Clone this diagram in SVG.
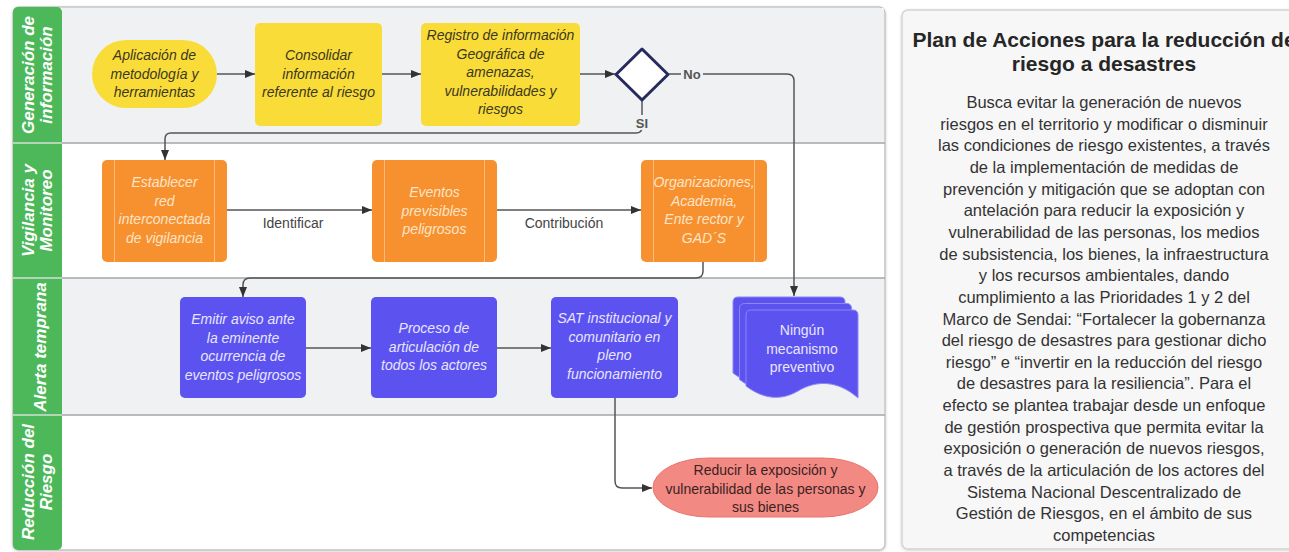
<svg xmlns="http://www.w3.org/2000/svg" width="1289" height="552" viewBox="0 0 1289 552">
<defs>
<marker id="arr" viewBox="0 0 10 10" refX="10" refY="5" markerWidth="10" markerHeight="10" markerUnits="userSpaceOnUse" orient="auto">
<path d="M0,1 L10,5 L0,9 Z" fill="#333"/>
</marker>
<filter id="sh" x="-5%" y="-5%" width="110%" height="110%">
<feDropShadow dx="0" dy="1" stdDeviation="1.5" flood-color="#000" flood-opacity="0.18"/>
</filter>
</defs>
<style>
text{font-family:"Liberation Sans",Arial,sans-serif}
.lane-t{font-size:17px;font-weight:bold;font-style:italic;fill:#ffffff;text-anchor:middle}
.ny{font-size:14px;font-style:italic;fill:#3a3820;text-anchor:middle}
.no{font-size:14px;font-style:italic;fill:#fde4c8;text-anchor:middle}
.nb{font-size:14px;font-style:italic;fill:#e8e6ff;text-anchor:middle}
.nbu{font-size:14px;fill:#e8e6ff;text-anchor:middle}
.nr{font-size:14px;fill:#3a2222;text-anchor:middle}
.lbl{font-size:14px;fill:#444;text-anchor:middle}
.lblb{font-size:13px;font-weight:bold;fill:#555;text-anchor:middle}
.yel{fill:#fadc38}
.ora{fill:#f7912f}
.blu{fill:#5b52f0}
.inner{stroke:#fbbb7c;stroke-width:1;fill:none}
.conn{fill:none;stroke:#555;stroke-width:1.5}
.title{font-size:21px;font-weight:bold;fill:#262626;text-anchor:middle}
.body{font-size:16.5px;fill:#333;text-anchor:middle}
</style>

<!-- swimlane container -->
<g id="swimlanes">
<rect x="13" y="7" width="872" height="543" rx="6" fill="#ffffff" stroke="#c4c4c4" stroke-width="1.5" filter="url(#sh)"/>
<rect x="62" y="8" width="822" height="135" fill="#eff1f3"/>
<rect x="62" y="278" width="822" height="137" fill="#eff1f3"/>
<rect x="13" y="7" width="49" height="543" rx="5" fill="#4cb85a"/>
<line x1="13" y1="143" x2="885" y2="143" stroke="#a6a6a6" stroke-width="1.5"/>
<line x1="13" y1="278" x2="885" y2="278" stroke="#a6a6a6" stroke-width="1.5"/>
<line x1="13" y1="415" x2="885" y2="415" stroke="#a6a6a6" stroke-width="1.5"/>
<line x1="13" y1="143" x2="62" y2="143" stroke="#bfe3c3" stroke-width="1.5"/>
<line x1="13" y1="278" x2="62" y2="278" stroke="#bfe3c3" stroke-width="1.5"/>
<line x1="13" y1="415" x2="62" y2="415" stroke="#bfe3c3" stroke-width="1.5"/>
<g transform="translate(37.5,75) rotate(-90)">
<text class="lane-t" x="0" y="-3.5">Generación de</text>
<text class="lane-t" x="0" y="14.5">información</text>
</g>
<g transform="translate(37.5,210.5) rotate(-90)">
<text class="lane-t" x="0" y="-3.5">Vigilancia y</text>
<text class="lane-t" x="0" y="14.5">Monitoreo</text>
</g>
<g transform="translate(37.5,347) rotate(-90)">
<text class="lane-t" x="0" y="8">Alerta temprana</text>
</g>
<g transform="translate(37.5,482) rotate(-90)">
<text class="lane-t" x="0" y="-3.5">Reducción del</text>
<text class="lane-t" x="0" y="14.5">Riesgo</text>
</g>
</g>

<!-- connectors -->
<g id="connectors">
<path class="conn" d="M217,74 L255,74" marker-end="url(#arr)"/>
<path class="conn" d="M382,74 L421,74" marker-end="url(#arr)"/>
<path class="conn" d="M580,74 L615,74" marker-end="url(#arr)"/>
<path class="conn" d="M669,74 L787,74 Q794,74 794,81 L794,296" marker-end="url(#arr)"/>
<path class="conn" d="M642,100 L642,127 Q642,133 636,133 L171,133 Q165,133 165,139 L165,160" marker-end="url(#arr)"/>
<path class="conn" d="M227,210 L372,210" marker-end="url(#arr)"/>
<path class="conn" d="M497,210 L641,210" marker-end="url(#arr)"/>
<path class="conn" d="M703,262 L703,271 Q703,278 696,278 L250,278 Q243,278 243,285 L243,297" marker-end="url(#arr)"/>
<path class="conn" d="M306,348 L371,348" marker-end="url(#arr)"/>
<path class="conn" d="M497,348 L551,348" marker-end="url(#arr)"/>
<path class="conn" d="M615,398 L615,481 Q615,488 622,488 L652,488" marker-end="url(#arr)"/>
<rect x="681" y="66" width="22" height="16" fill="#eff1f3"/>
<text class="lblb" x="692" y="78.5">No</text>
<rect x="633" y="115" width="18" height="15" fill="#eff1f3"/>
<text class="lblb" x="642" y="127.5">SI</text>
<text class="lbl" x="293" y="228">Identificar</text>
<text class="lbl" x="564" y="228">Contribución</text>
</g>

<!-- Lane 1 nodes -->
<g id="n-aplicacion">
<rect class="yel" x="92" y="40" width="125" height="68" rx="34"/>
<text class="ny" x="154.5" y="60">Aplicación de</text>
<text class="ny" x="154.5" y="78.5">metodología y</text>
<text class="ny" x="154.5" y="97">herramientas</text>
</g>
<g id="n-consolidar">
<rect class="yel" x="255" y="23" width="127" height="103" rx="5"/>
<text class="ny" x="318.5" y="60">Consolidar</text>
<text class="ny" x="318.5" y="78.5">información</text>
<text class="ny" x="318.5" y="97">referente al riesgo</text>
</g>
<g id="n-registro">
<rect class="yel" x="421" y="23" width="159" height="103" rx="5"/>
<text class="ny" x="500.5" y="40">Registro de información</text>
<text class="ny" x="500.5" y="58.5">Geográfica de</text>
<text class="ny" x="500.5" y="77">amenazas,</text>
<text class="ny" x="500.5" y="95.5">vulnerabilidades y</text>
<text class="ny" x="500.5" y="114">riesgos</text>
</g>
<g id="n-decision">
<path d="M642,49 L668,74.5 L642,100 L616,74.5 Z" fill="#ffffff" stroke="#262a5c" stroke-width="3" stroke-linejoin="round"/>
</g>

<!-- Lane 2 nodes -->
<g id="n-establecer">
<rect class="ora" x="102" y="160" width="125" height="102" rx="5"/>
<line class="inner" x1="114.5" y1="160" x2="114.5" y2="262"/>
<line class="inner" x1="214.5" y1="160" x2="214.5" y2="262"/>
<text class="no" x="164.5" y="187">Establecer</text>
<text class="no" x="164.5" y="205.5">red</text>
<text class="no" x="164.5" y="224">interconectada</text>
<text class="no" x="164.5" y="242.5">de vigilancia</text>
</g>
<g id="n-eventos">
<rect class="ora" x="372" y="160" width="125" height="102" rx="5"/>
<line class="inner" x1="384.5" y1="160" x2="384.5" y2="262"/>
<line class="inner" x1="484.5" y1="160" x2="484.5" y2="262"/>
<text class="no" x="434.5" y="197">Eventos</text>
<text class="no" x="434.5" y="215.5">previsibles</text>
<text class="no" x="434.5" y="234">peligrosos</text>
</g>
<g id="n-organizaciones">
<rect class="ora" x="641" y="160" width="126" height="102" rx="5"/>
<line class="inner" x1="653.5" y1="160" x2="653.5" y2="262"/>
<line class="inner" x1="754.5" y1="160" x2="754.5" y2="262"/>
<text class="no" x="704" y="187">Organizaciones,</text>
<text class="no" x="704" y="205.5">Academia,</text>
<text class="no" x="704" y="224">Ente rector y</text>
<text class="no" x="704" y="242.5">GAD´S</text>
</g>

<!-- Lane 3 nodes -->
<g id="n-emitir">
<rect class="blu" x="180" y="297" width="126" height="101" rx="5"/>
<text class="nb" x="243" y="324">Emitir aviso ante</text>
<text class="nb" x="243" y="342.5">la eminente</text>
<text class="nb" x="243" y="361">ocurrencia de</text>
<text class="nb" x="243" y="379.5">eventos peligrosos</text>
</g>
<g id="n-proceso">
<rect class="blu" x="371" y="297" width="126" height="101" rx="5"/>
<text class="nb" x="434" y="333">Proceso de</text>
<text class="nb" x="434" y="351.5">articulación de</text>
<text class="nb" x="434" y="370">todos los actores</text>
</g>
<g id="n-sat">
<rect class="blu" x="551" y="297" width="127" height="101" rx="5"/>
<text class="nb" x="614.5" y="323">SAT institucional y</text>
<text class="nb" x="614.5" y="341.5">comunitario en</text>
<text class="nb" x="614.5" y="360">pleno</text>
<text class="nb" x="614.5" y="378.5">funcionamiento</text>
</g>
<g id="n-ningun">
<path class="blu" stroke="#8c86f6" stroke-width="1" d="M733,302 Q733,297 738,297 L840,297 Q845,297 845,302 L845,385 C825,367 803,367 785,378 C768,388 750,386 733,373 Z"/>
<path class="blu" stroke="#8c86f6" stroke-width="1" d="M739.5,308.5 Q739.5,303.5 744.5,303.5 L846.5,303.5 Q851.5,303.5 851.5,308.5 L851.5,391.5 C831.5,373.5 809.5,373.5 791.5,384.5 C774.5,394.5 756.5,392.5 739.5,379.5 Z"/>
<path class="blu" stroke="#8c86f6" stroke-width="1" d="M746,315 Q746,310 751,310 L853,310 Q858,310 858,315 L858,398 C838,380 816,380 798,391 C781,401 763,399 746,386 Z"/>
<text class="nbu" x="802" y="335">Ningún</text>
<text class="nbu" x="802" y="353.5">mecanismo</text>
<text class="nbu" x="802" y="372">preventivo</text>
</g>

<!-- Lane 4 nodes -->
<g id="n-reducir">
<rect x="653" y="458" width="225" height="59" rx="56" ry="29.5" fill="#f38983" stroke="#e9736c" stroke-width="1"/>
<text class="nr" x="765.5" y="475">Reducir la exposición y</text>
<text class="nr" x="765.5" y="493.5">vulnerabilidad de las personas y</text>
<text class="nr" x="765.5" y="512">sus bienes</text>
</g>

<!-- Right text panel -->
<g id="plan-panel">
<rect x="902" y="10" width="410" height="539" rx="6" fill="#f7f7f7" stroke="#d4d4d4" stroke-width="1.5" filter="url(#sh)"/>
<text class="title" x="1104" y="47">Plan de Acciones para la reducción de</text>
<text class="title" x="1104" y="71">riesgo a desastres</text>
<text class="body" x="1104" y="108">Busca evitar la generación de nuevos</text>
<text class="body" x="1104" y="129.65">riesgos en el territorio y modificar o disminuir</text>
<text class="body" x="1104" y="151.3">las condiciones de riesgo existentes, a través</text>
<text class="body" x="1104" y="172.95">de la implementación de medidas de</text>
<text class="body" x="1104" y="194.6">prevención y mitigación que se adoptan con</text>
<text class="body" x="1104" y="216.25">antelación para reducir la exposición y</text>
<text class="body" x="1104" y="237.9">vulnerabilidad de las personas, los medios</text>
<text class="body" x="1104" y="259.55">de subsistencia, los bienes, la infraestructura</text>
<text class="body" x="1104" y="281.2">y los recursos ambientales, dando</text>
<text class="body" x="1104" y="302.85">cumplimiento a las Prioridades 1 y 2 del</text>
<text class="body" x="1104" y="324.5">Marco de Sendai: “Fortalecer la gobernanza</text>
<text class="body" x="1104" y="346.15">del riesgo de desastres para gestionar dicho</text>
<text class="body" x="1104" y="367.8">riesgo” e “invertir en la reducción del riesgo</text>
<text class="body" x="1104" y="389.45">de desastres para la resiliencia”. Para el</text>
<text class="body" x="1104" y="411.1">efecto se plantea trabajar desde un enfoque</text>
<text class="body" x="1104" y="432.75">de gestión prospectiva que permita evitar la</text>
<text class="body" x="1104" y="454.4">exposición o generación de nuevos riesgos,</text>
<text class="body" x="1104" y="476.05">a través de la articulación de los actores del</text>
<text class="body" x="1104" y="497.7">Sistema Nacional Descentralizado de</text>
<text class="body" x="1104" y="519.35">Gestión de Riesgos, en el ámbito de sus</text>
<text class="body" x="1104" y="541">competencias</text>
</g>
</svg>
